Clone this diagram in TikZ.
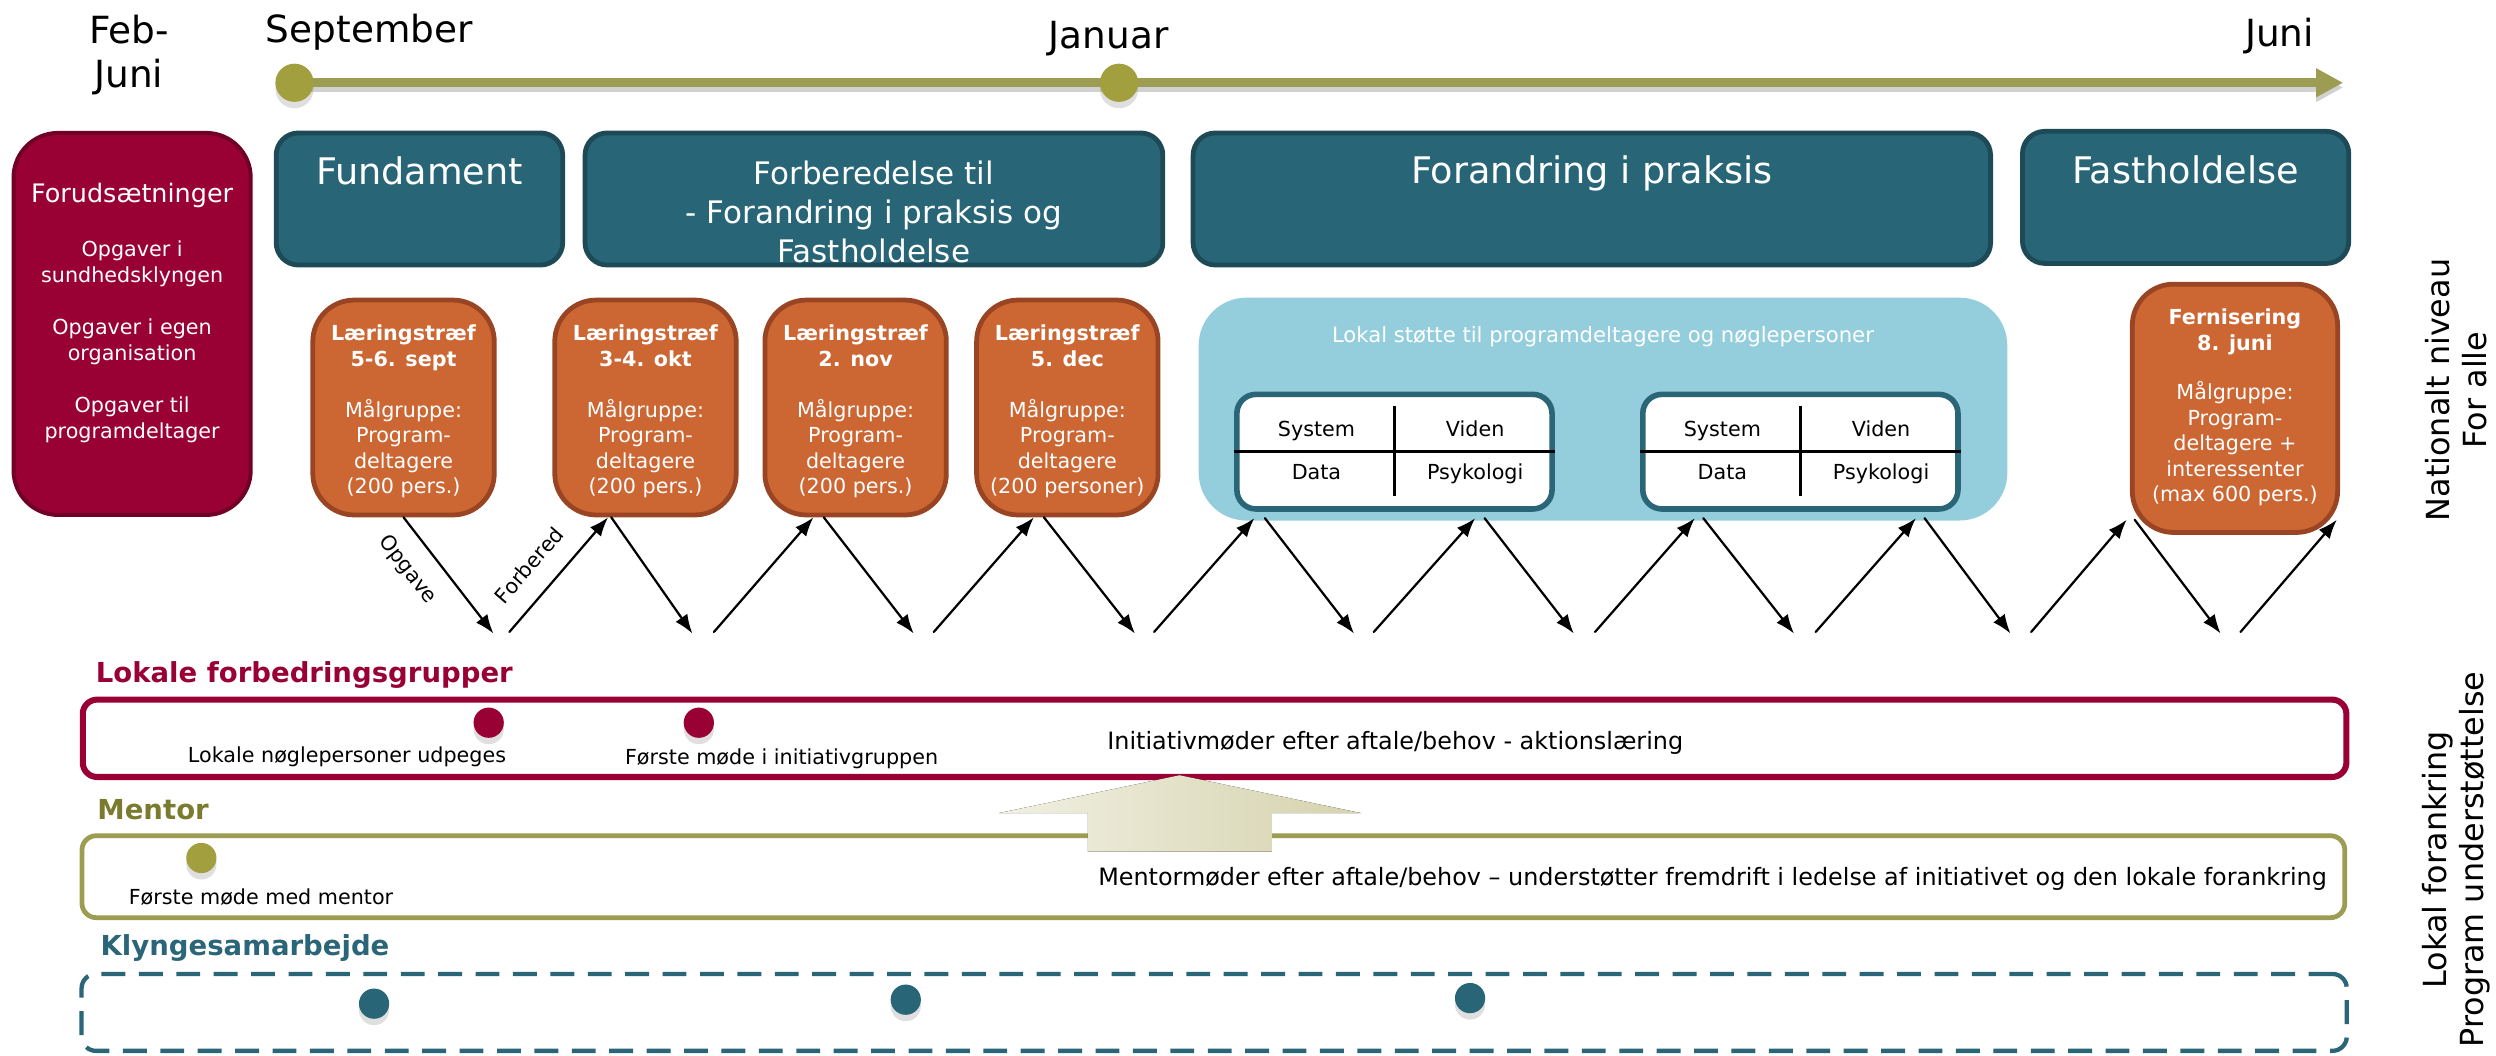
\documentclass[tikz,border=0pt]{standalone}
\usepackage{fontspec}
\setmainfont{DejaVu Sans}
\usetikzlibrary{arrows.meta,shadows}
\definecolor{tealbox}{HTML}{276577}
\definecolor{tealedge}{HTML}{1D4A56}
\definecolor{crimson}{HTML}{990033}
\definecolor{crimsonedge}{HTML}{700026}
\definecolor{rust}{HTML}{CC6633}
\definecolor{rustedge}{HTML}{994422}
\definecolor{skyblue}{HTML}{94CEDC}
\definecolor{olive}{HTML}{9C9C52}
\definecolor{olivedot}{HTML}{A2A03E}
\definecolor{olivetext}{HTML}{7B7B30}
\definecolor{laneteal}{HTML}{2A6677}
\definecolor{beigeL}{HTML}{F1F0E2}
\definecolor{beigeR}{HTML}{D5D3AE}
\newcommand{\fsz}[2]{\fontsize{#1}{#2}\selectfont}

\begin{document}
\begin{tikzpicture}[x=1pt, y=-1pt, line join=round, line cap=round, >={Latex[length=12pt,width=9pt]},
    month/.style={font=\fsz{23.5}{28}, inner sep=0pt},
    wtxt/.style={text=white, inner sep=0pt},
    btxt/.style={inner sep=0pt, font=\fsz{13}{16}},
    phase/.style={draw=tealedge, fill=tealbox, line width=3pt, rounded corners=14pt, minimum height=83pt},
    meet/.style={draw=rustedge, fill=rust, line width=3pt, rounded corners=26pt, minimum width=114pt, minimum height=135pt},
    quad/.style={draw=laneteal, fill=white, line width=3.5pt, rounded corners=12pt, minimum width=198pt, minimum height=72pt},
    lane/.style={fill=white, rounded corners=9pt, inner sep=0pt},
    lanetitle/.style={font=\bfseries\fsz{17.3}{20}, anchor=base west, inner sep=0pt},
    dot/.style={circle, inner sep=0pt, minimum size=19pt, drop shadow={shadow xshift=0pt, shadow yshift=-4pt, opacity=0.25}},
    flow/.style={->, line width=1.4pt}]
\useasboundingbox (0,0) rectangle (1568,663);

% timeline
\coordinate (tstart) at (185,52);
\coordinate (tend) at (1472,52);
\draw[line width=5.5pt, line cap=butt, black!18, -{Triangle[length=17pt,width=17pt]}] ([yshift=-3pt]tstart) -- ([yshift=-3pt]tend);
\draw[line width=5.5pt, line cap=butt, olive, -{Triangle[length=17pt,width=17pt]}] (tstart) -- (tend);
\node[dot, fill=olivedot, minimum size=24pt] (sep) at (tstart) {};
\node[dot, fill=olivedot, minimum size=24pt] (jan) at (703,52) {};
\node[month, anchor=north, align=center] (febjuni) at (81,9) {Feb-\\Juni};
\node[month, anchor=base] (septt) at (232,27) {September};
\node[month, anchor=base] (jant) at (696.5,30.5) {Januar};
\node[month, anchor=base] (junit) at (1432,29) {Juni};

% forudsaetninger
\node[draw=crimsonedge, fill=crimson, line width=2.5pt, rounded corners=28pt, minimum width=149pt, minimum height=240pt] (forud) at (83,203.5) {};
\node[wtxt, anchor=base, font=\fsz{16}{19}] (forudt) at (83,127) {Forudsætninger};
\node[wtxt, anchor=north, align=center, font=\fsz{13}{16.3}] (forudb) at (83,151.2) {Opgaver i\\sundhedsklyngen\\[16.3pt]Opgaver i egen\\organisation\\[16.3pt]Opgaver til\\programdeltager};

% faser
\node[phase, minimum width=180pt] (ph1) at (263.5,125) {};
\node[phase, minimum width=363pt] (ph2) at (549,125) {};
\node[phase, minimum width=501pt] (ph3) at (1000,125) {};
\node[phase, minimum width=205pt] (ph4) at (1373,124) {};
\node[wtxt, anchor=base, font=\fsz{23}{28}] (ph1t) at (263.5,116) {Fundament};
\node[wtxt, anchor=north, align=center, font=\fsz{19.5}{24.5}] (ph2t) at (549,101.2) {Forberedelse til\\- Forandring i praksis og\\Fastholdelse};
\node[wtxt, anchor=base, font=\fsz{23}{28}] (ph3t) at (1000,115.5) {Forandring i praksis};
\node[wtxt, anchor=base, font=\fsz{23}{28}] (ph4t) at (1373,115) {Fastholdelse};

% laeringstraef
\foreach \n/\x/\d/\p in {l1/253.5/5-6. sept/200 pers.,l2/405.5/3-4. okt/200 pers.,l3/537.5/2. nov/200 pers.,l4/670.5/5. dec/200 personer}{
  \node[meet] (\n) at (\x,256) {};
  \node[wtxt, anchor=north, align=center, font=\fsz{13}{16}] (\n txt) at (\x,204) {\textbf{Læringstræf}\\\textbf{\d}\\[16pt]Målgruppe:\\Program-\\deltagere\\(\p)};
}
\node[meet, minimum width=129pt, minimum height=156pt] (fern) at (1404,256.5) {};
\node[wtxt, anchor=north, align=center, font=\fsz{13}{16}] (ferntxt) at (1404,194) {\textbf{Fernisering}\\\textbf{8. juni}\\[15pt]Målgruppe:\\Program-\\deltagere +\\interessenter\\(max 600 pers.)};

% lokal stoette
\node[fill=skyblue, rounded corners=30pt, inner sep=0pt, minimum width=508pt, minimum height=140pt] (lokal) at (1007,257) {};
\node[wtxt, anchor=base, font=\fsz{13.3}{16}] (lokalt) at (1007,215) {Lokal støtte til programdeltagere og nøglepersoner};
\foreach \n/\x in {sa/876,sb/1131}{
  \node[quad] (\n) at (\x,283.75) {};
  \draw[line width=1.5pt, line cap=butt] (\n.west) -- (\n.east);
  \draw[line width=1.5pt, line cap=butt] ([yshift=29pt]\n.center) -- ([yshift=-28pt]\n.center);
  \node[btxt, anchor=base] (\n sys) at (\x-49,274.5) {System};
  \node[btxt, anchor=base] (\n vid) at (\x+50.7,274.5) {Viden};
  \node[btxt, anchor=base] (\n dat) at (\x-49,301.5) {Data};
  \node[btxt, anchor=base] (\n psy) at (\x+50.7,301.5) {Psykologi};
}

% zigzag
\foreach \i/\d/\u in {1/310/320,2/435/448.5,3/574/586.6,4/713/725,5/850.6/863,6/988.7/1002,7/1127/1140.6,8/1263/1276,9/1395/1407.5}{
  \coordinate (vd\i) at (\d,398);
  \coordinate (vu\i) at (\u,397);
}
\draw[flow] (l1.south) -- (vd1) node[pos=0.3, sloped, below=8pt, font=\fsz{13}{15}] (opg) {Opgave};
\draw[flow] (vu1) -- ([xshift=-23.5pt]l2.south) node[pos=0.42, sloped, above=9pt, font=\fsz{13}{15}] (forb) {Forbered};
\draw[flow] ([xshift=-21.5pt]l2.south) -- (vd2);
\draw[flow] (vu2) -- ([xshift=-26.5pt]l3.south);
\draw[flow] ([xshift=-20pt]l3.south) -- (vd3);
\draw[flow] (vu3) -- ([xshift=-21pt]l4.south);
\draw[flow] ([xshift=-14.7pt]l4.south) -- (vd4);
\draw[flow] (vu4) -- ([xshift=-88pt,yshift=-4pt]sa.south);
\draw[flow] ([xshift=-81.4pt,yshift=-4pt]sa.south) -- (vd5);
\draw[flow] (vu5) -- ([xshift=50.7pt,yshift=-4pt]sa.south);
\draw[flow] ([xshift=56.6pt,yshift=-4pt]sa.south) -- (vd6);
\draw[flow] (vu6) -- ([xshift=-66.3pt,yshift=-4pt]sb.south);
\draw[flow] ([xshift=-61pt,yshift=-4pt]sb.south) -- (vd7);
\draw[flow] (vu7) -- ([xshift=72.6pt,yshift=-4pt]sb.south);
\draw[flow] ([xshift=78pt,yshift=-4pt]sb.south) -- (vd8);
\draw[flow] (vu8) -- ([xshift=-68pt,yshift=9.5pt]fern.south);
\draw[flow] ([xshift=-63pt,yshift=9.5pt]fern.south) -- (vd9);
\draw[flow] (vu9) -- ([xshift=64pt,yshift=9.5pt]fern.south);

% lokale forbedringsgrupper
\node[lanetitle, text=crimson] (lokt) at (60,429) {Lokale forbedringsgrupper};
\node[lane, draw=crimson, line width=3.8pt, minimum width=1422pt, minimum height=48.6pt] (lok) at (763,463.8) {};
\node[dot, fill=crimson] (lokd1) at (307,454) {};
\node[dot, fill=crimson] (lokd2) at (439,454) {};
\node[btxt, anchor=base] (lokn1) at (218,479) {Lokale nøglepersoner udpeges};
\node[btxt, anchor=base] (lokn2) at (491,480.5) {Første møde i initiativgruppen};
\node[btxt, anchor=base, font=\fsz{15}{18}] (lokn3) at (876.5,471) {Initiativmøder efter aftale/behov - aktionslæring};

% mentor
\node[lanetitle, text=olivetext] (ment) at (61,515) {Mentor};
\node[lane, draw=olive, line width=3pt, minimum width=1421.5pt, minimum height=51.5pt] (men) at (762.25,550.75) {};
\fill[left color=beigeL, right color=beigeR] (683.4,535) -- (683.4,510.8) -- (627.5,510.8) -- (741,487) -- (855,510.8) -- (799,510.8) -- (799,535) -- cycle;
\node[dot, fill=olivedot] (mend) at (126.5,539) {};
\node[btxt, anchor=base] (menn1) at (164,568.5) {Første møde med mentor};
\node[btxt, anchor=base east, font=\fsz{15}{18}] (menn2) at (1462,556) {Mentormøder efter aftale/behov – understøtter fremdrift i ledelse af initiativet og den lokale forankring};

% klyngesamarbejde
\node[lanetitle, text=laneteal] (klyt) at (63,600) {Klyngesamarbejde};
\node[lane, draw=laneteal, line width=2.7pt, line cap=butt, dash pattern=on 15pt off 8.5pt, minimum width=1423pt, minimum height=48.3pt] (kly) at (762.75,636) {};
\node[dot, fill=tealbox] (klyd1) at (235,630.5) {};
\node[dot, fill=tealbox] (klyd2) at (569,628) {};
\node[dot, fill=tealbox] (klyd3) at (923.5,627) {};

% niveauer
\node[rotate=90, align=center, inner sep=0pt, font=\fsz{20}{23.5}] (nat) at (1543,245) {Nationalt niveau\\For alle};
\node[rotate=90, align=center, inner sep=0pt, font=\fsz{20}{23.5}] (lokf) at (1543,540) {Lokal forankring\\Program understøttelse};
\end{tikzpicture}
\end{document}
